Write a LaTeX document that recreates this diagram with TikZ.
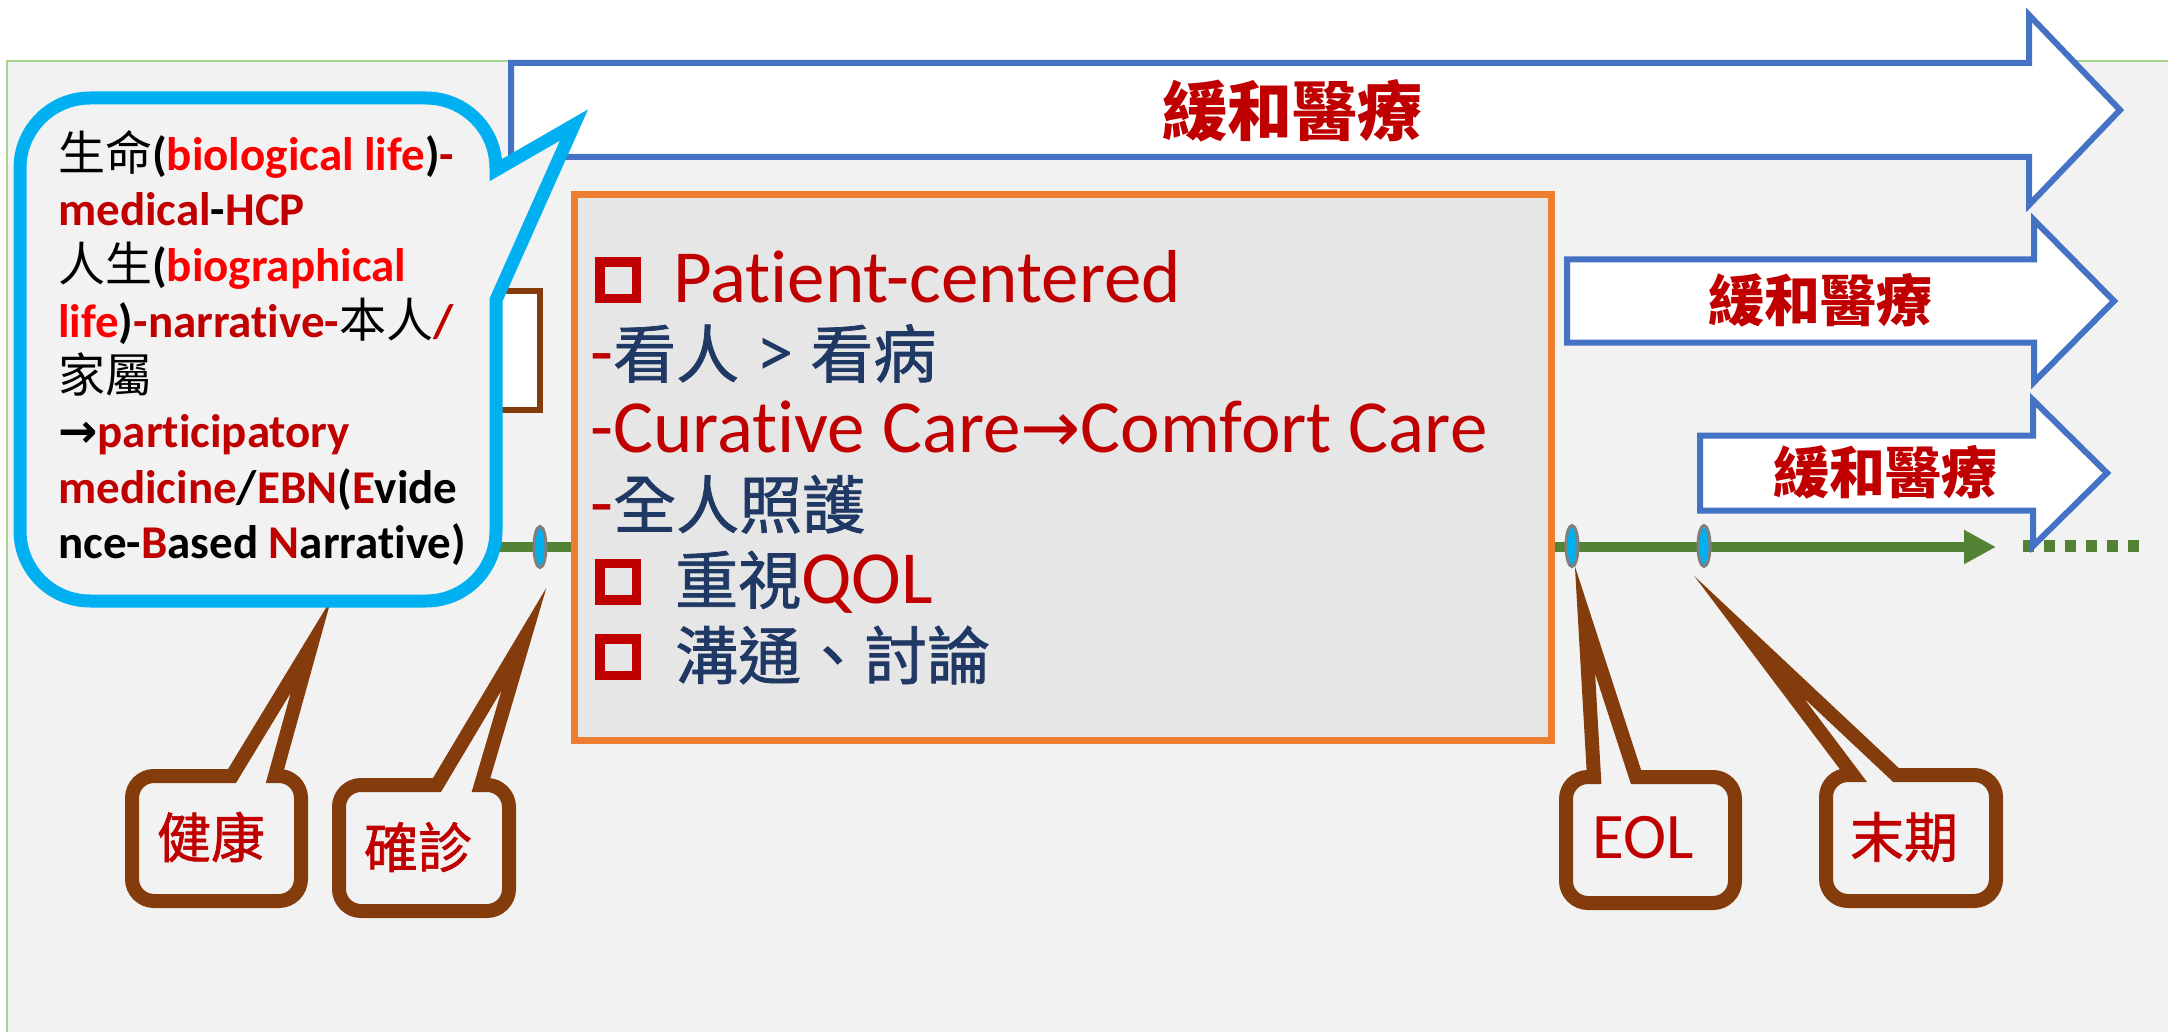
\documentclass[tikz,border=0pt]{standalone}
\usepackage{fontspec}
\setmainfont{Carlito}[Ligatures=NoCommon]
\newfontfamily\cjk{Noto Sans CJK TC}
\newfontfamily\cjkm{Noto Sans CJK TC}[FakeBold=1.2]
\newfontfamily\djv{DejaVu Sans}
\usetikzlibrary{shapes.geometric,arrows.meta}
\definecolor{dred}{HTML}{C00000}
\definecolor{bred}{HTML}{FF0000}
\definecolor{navy}{HTML}{1F3864}
\definecolor{ablue}{HTML}{4472C4}
\definecolor{cyanb}{HTML}{00B0F0}
\definecolor{brownc}{HTML}{843C0C}
\definecolor{orangec}{HTML}{ED7D31}
\definecolor{greenc}{HTML}{548235}
\definecolor{panelc}{HTML}{F2F2F2}
\definecolor{boxc}{HTML}{E6E6E6}
\definecolor{pborder}{HTML}{A9D18E}
\definecolor{mgray}{HTML}{7F7F7F}
\newcommand\Zb[1]{{\cjkm\fontsize{63}{75}\selectfont #1}}
\newcommand\Zn[1]{{\cjk\mdseries #1}}
\newcommand\Zc[1]{{\cjkm\fontsize{54}{54}\selectfont #1}}
\newcommand\blockarrow[6]{\draw[arrowbox] (#1,{#4-#5}) -- (#2,{#4-#5}) -- (#2,{#4-#6}) -- (#3,#4) -- (#2,{#4+#6}) -- (#2,{#4+#5}) -- (#1,{#4+#5}) -- cycle;}
\newcommand\calloutbox[8]{\draw[callout] (#6,#3) [rounded corners=22pt] -- (#2,#3) -- (#2,#4) -- (#1,#4) -- (#1,#3) [sharp corners] -- (#5,#3) -- (#7,#8) -- cycle;}
\tikzset{
  arrowbox/.style={draw=ablue, line width=6pt, fill=white, line join=miter},
  arrtext/.style={text=dred, inner sep=0pt},
  bubble/.style={draw=cyanb, line width=13pt, fill=panelc, line join=miter, miter limit=10},
  callout/.style={draw=brownc, line width=14pt, fill=panelc, line join=miter, miter limit=40},
  cotext/.style={text=dred, inner sep=0pt},
  boxline/.style={anchor=base west, inner sep=0pt, font=\fontsize{75}{88}\selectfont},
  bubline/.style={anchor=base west, inner sep=0pt, font=\bfseries\fontsize{47}{55}\selectfont},
  chk/.style={draw=dred, line width=9.5pt},
  marker/.style={ellipse, draw=mgray, line width=3pt, fill=cyanb, minimum width=12pt, minimum height=41pt, inner sep=0pt},
  timeline/.style={draw=greenc, line width=10pt, -{Triangle[length=32pt,width=32pt]}},
  dotline/.style={draw=greenc, line width=12pt, dash pattern=on 10.5pt off 10.5pt},
  obox/.style={draw=orangec, line width=7pt, fill=boxc},
  hiddenbox/.style={draw=brownc, line width=6pt, fill=white}
}
\begin{document}
\begin{tikzpicture}[x=1pt,y=-1pt]
\useasboundingbox (0,0) rectangle (2168,1032);
\clip (0,0) rectangle (2168,1032);
\fill[white] (0,0) rectangle (2168,1032);
\fill[panelc] (7,61) rectangle (2172,1036);
\draw[pborder, line width=2pt] (2172,61) -- (7,61) -- (7,1036);

% timeline
\coordinate (tls) at (480,547);
\coordinate (tle) at (1996,547);
\draw[timeline] (tls) -- (tle);
\coordinate (dts) at (2023,546);
\coordinate (dte) at (2140,546);
\draw[dotline] (dts) -- (dte);

% palliative care arrows
\blockarrow{511}{2029}{2120}{110}{47}{95}
\node[arrtext, font=\cjk\bfseries\fontsize{65}{65}\selectfont] (tA) at (1292,111) {緩和醫療};
\blockarrow{1567}{2034}{2114}{301}{41.5}{81}
\node[arrtext, font=\cjk\bfseries\fontsize{56}{56}\selectfont] (tB) at (1820,300) {緩和醫療};
\blockarrow{1700}{2033}{2107}{473}{37.5}{73}
\node[arrtext, font=\cjk\bfseries\fontsize{56}{56}\selectfont] (tC) at (1885,472) {緩和醫療};

% central box
\draw[obox] (574,195) rectangle (1551,740);
\draw[chk] (600,262) rectangle (636.5,298.5);
\node[boxline, text=dred] (b1) at (673,302) {Patient-centered};
\node[boxline] (b2) at (590,377.4) {\textcolor{dred}{-}\textcolor{navy}{\Zb{看人} > \Zb{看病}}};
\node[boxline, text=dred] (b3) at (590,452.8) {-Curative Care{\djv\fontsize{72}{75}\selectfont →}Comfort Care};
\node[boxline] (b4) at (590,528.2) {\textcolor{dred}{-}\textcolor{navy}{\Zb{全人照護}}};
\draw[chk] (600,563.5) rectangle (636.5,600);
\node[boxline] (b5) at (675,603.6) {\textcolor{navy}{\Zb{重視}}\textcolor{dred}{QOL}};
\draw[chk] (600,639) rectangle (636.5,675.5);
\node[boxline] (b6) at (675,679) {\textcolor{navy}{\Zb{溝通、討論}}};

% markers
\node[marker] (m1) at (540,547) {};
\node[marker] (m2) at (1572,546) {};
\node[marker] (m3) at (1704,546) {};

% partly hidden brown box
\draw[hiddenbox] (440,291) rectangle (540,410);

% brown callouts
\calloutbox{132}{301}{776}{901}{232}{275}{311}{646}
\node[cotext] (c1) at (211,837) {\Zc{健康}};
\calloutbox{339}{509}{785}{911}{437}{481}{524}{639}
\node[cotext] (c2) at (418,847) {\Zc{確診}};
\calloutbox{1566}{1735}{777}{903}{1594}{1636}{1585}{620}
\node[cotext, font=\fontsize{65}{65}\selectfont] (c3) at (1643,838) {EOL};
\calloutbox{1826}{1996}{775}{901}{1853}{1896}{1749}{637}
\node[cotext] (c4) at (1904,837) {\Zc{末期}};

% cyan speech bubble
\draw[bubble] (496,300) [rounded corners=70pt] -- (496,601) -- (20,601) -- (20,98) -- (496,98) [sharp corners] -- (496,170) -- (574,125) -- cycle;
\node[bubline] (q1) at (58,171) {\Zn{生命}(\textcolor{bred}{biological life})\textcolor{dred}{-}};
\node[bubline] (q2) at (58,226) {\textcolor{dred}{medical}-\textcolor{dred}{HCP}};
\node[bubline] (q3) at (58,282) {\Zn{人生}(\textcolor{bred}{biographical}};
\node[bubline] (q4) at (58,337) {\textcolor{bred}{life})\textcolor{dred}{-narrative-}\Zn{本人}\textcolor{dred}{/}};
\node[bubline] (q5) at (58,392) {\Zn{家屬}};
\node[bubline] (q6) at (58,447) {{\djv →}\textcolor{dred}{participatory}};
\node[bubline] (q7) at (58,503) {\textcolor{dred}{medicine}/\textcolor{dred}{EBN}(\textcolor{dred}{E}vide};
\node[bubline] (q8) at (58,558) {nce-\textcolor{dred}{B}ased \textcolor{dred}{N}arrative)};
\end{tikzpicture}
\end{document}
